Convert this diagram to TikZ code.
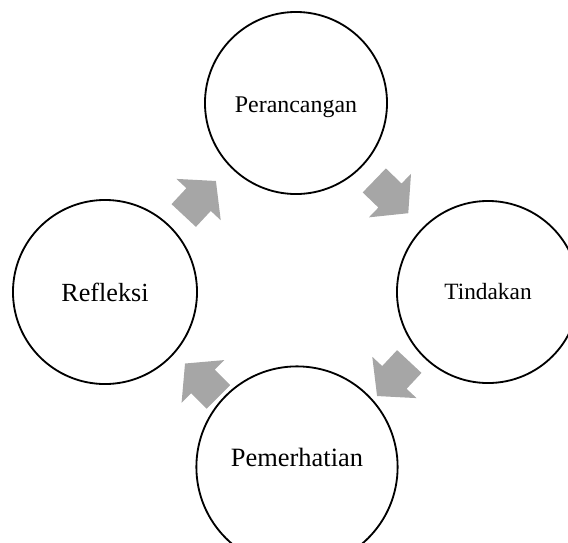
\documentclass[tikz,border=0pt]{standalone}
\usepackage{fontspec}
\setmainfont{Liberation Serif}
\usepackage{tikz}
\usetikzlibrary{calc,shapes.arrows}
\definecolor{cyclegray}{RGB}{166,166,166}

\begin{document}
\begin{tikzpicture}[x=0.025cm, y=-0.025cm,
    stage/.style={circle, draw, line width=1.3pt, minimum size=4.55cm, inner sep=0pt},
    cyclearrow/.style={single arrow, fill=cyclegray, draw=none, inner xsep=0pt, inner ysep=0.41cm,
      minimum height=1.18cm, single arrow head extend=0.34cm, single arrow tip angle=100}]
        \useasboundingbox (0,0) rectangle (568,542);

        % The four stages of the cycle
        \node[stage, text height=0.6cm, text depth=0.13cm, font=\fontsize{17}{20}\selectfont] (perancangan) at (296,103) {Perancangan};
        \node[stage, font=\fontsize{16.6}{20}\selectfont] (tindakan) at (488,292) {Tindakan};
        \node[stage, minimum size=5.03cm, text height=0.45cm, text depth=0.5cm, font=\fontsize{18.8}{22}\selectfont] (pemerhatian) at (297,467) {Pemerhatian};
        \node[stage, minimum size=4.6cm, font=\fontsize{18.6}{22}\selectfont] (refleksi) at (105,292) {Refleksi};

        % Grey block arrows between neighbouring stages, going clockwise
        \node[cyclearrow, rotate=-44, xshift=-0.2cm] (arrow1) at ($(perancangan)!0.5!(tindakan)$) {};
        \node[cyclearrow, rotate=-133, xshift=-0.2cm] (arrow2) at ($(tindakan)!0.5!(pemerhatian)$) {};
        \node[cyclearrow, rotate=135, xshift=-0.2cm] (arrow3) at ($(pemerhatian)!0.5!(refleksi)$) {};
        \node[cyclearrow, rotate=47, xshift=-0.2cm] (arrow4) at ($(refleksi)!0.5!(perancangan)$) {};
    \end{tikzpicture}
\end{document}
